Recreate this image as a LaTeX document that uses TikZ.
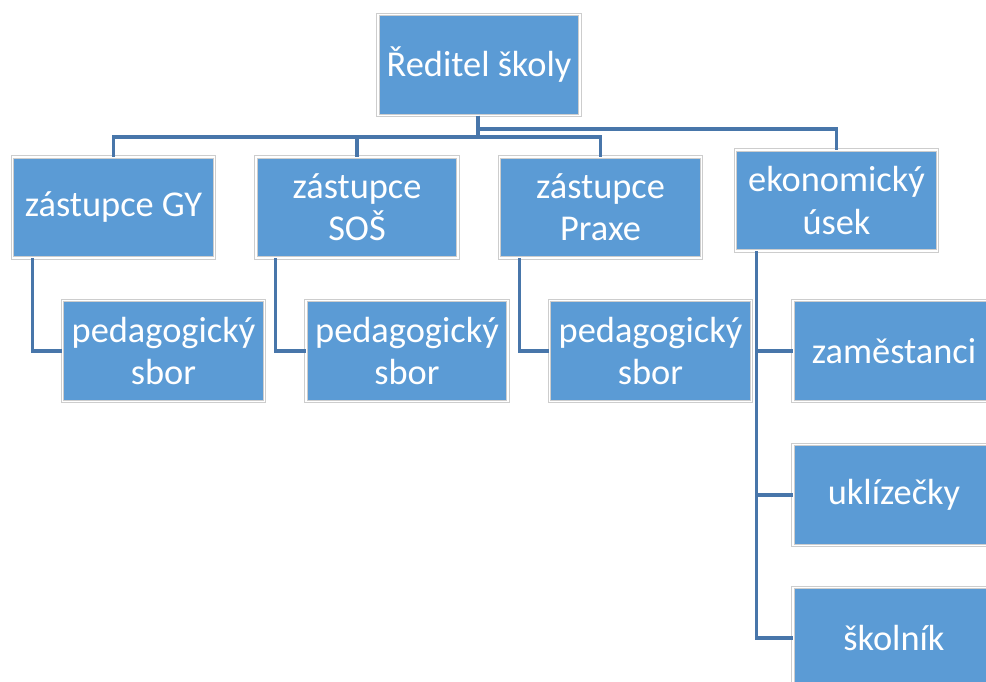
\documentclass[tikz,border=0pt]{standalone}
\usepackage{fontspec}
\setmainfont{Carlito}
\usepackage{xcolor}
\usepackage{tikz}
\usetikzlibrary{positioning, calc}

\definecolor{boxblue}{RGB}{91,155,213}
\definecolor{boxedge}{RGB}{205,205,205}
\definecolor{linkblue}{RGB}{72,118,170}

\begin{document}
\begin{tikzpicture}[
    x=0.02cm, y=-0.02cm,
    box/.style={draw=boxedge, double=white, double distance=0.9pt, line width=0.45pt, rectangle, fill=boxblue, minimum height=2.02cm, minimum width=4.04cm, align=center, text=white, font=\fontsize{20.7}{24}\selectfont, inner sep=2pt},
    link/.style={draw=linkblue, line width=1.8pt}
]
\useasboundingbox (0,0) rectangle (986,682);
\clip (0,0) rectangle (986,682);

% Head
\node[box] (dir) at (479,65) {Ředitel školy};

% Deputies
\node[box] (gy) at (113.5,207.5) {zástupce GY};
\node[box] (sos) at (357,207.5) {zástupce\\SOŠ};
\node[box] (praxe) at (600.5,207.5) {zástupce\\Praxe};
\node[box] (eko) at (836.5,200.5) {ekonomický\\úsek};

% Staff
\node[box] (ped1) at (163.5,351) {pedagogický\\sbor};
\node[box] (ped2) at (407,351) {pedagogický\\sbor};
\node[box] (ped3) at (650.5,351) {pedagogický\\sbor};
\node[box] (zam) at (894,351) {zaměstanci};
\node[box] (ukl) at (894,495) {uklízečky};
\node[box] (skol) at (894,638) {školník};

% Connections
\coordinate (busA) at (478,137);
\coordinate (busB) at (478,129);
\foreach \a in {gy, sos, praxe} {
    \draw[link] (dir.south -| busA) -- (busA) -| (\a.north);
}
\draw[link] (dir.south -| busB) -- (busB) -| (eko.north);

\foreach \a/\b in {gy/ped1, sos/ped2, praxe/ped3} {
    \draw[link] ([xshift=0.4cm]\a.south west) |- (\b.west);
}
\foreach \b in {zam, ukl, skol} {
    \draw[link] ([xshift=0.42cm]eko.south west) |- (\b.west);
}

\end{tikzpicture}
\end{document}
